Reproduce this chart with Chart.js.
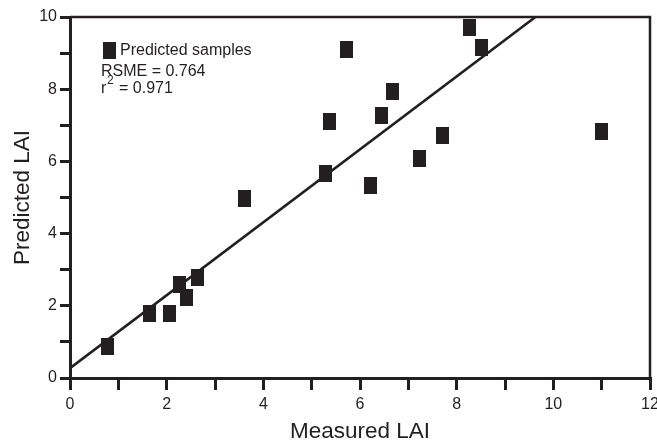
<!DOCTYPE html>
<html>
<head>
<meta charset="utf-8">
<script src="https://cdn.jsdelivr.net/npm/chart.js@4/dist/chart.umd.min.js"></script>
<style>
html,body{margin:0;padding:0;background:#fff;overflow:hidden;}
canvas{display:block;}
</style>
</head>
<body>
<canvas id="c" width="657" height="447" style="width:657px;height:447px"></canvas>
<script>
// Data
const measuredLAI  = [0.78, 1.64, 2.06, 2.26, 2.40, 2.64, 3.62, 5.28, 5.37, 5.73, 6.22, 6.45, 6.68, 7.23, 7.70, 8.26, 8.51, 10.99];
const predictedLAI = [0.87, 1.79, 1.79, 2.58, 2.24, 2.79, 4.96, 5.67, 7.10, 9.10, 5.32, 7.27, 7.93, 6.09, 6.71, 9.71, 9.15, 6.83];
const fitLineX = [0, 9.63];
const fitLineY = [0.27, 10];
const xTickValues = [0, 2, 4, 6, 8, 10, 12];
const yTickValues = [0, 2, 4, 6, 8, 10];
const legendLabel = 'Predicted samples';
const statsLines = ['RSME = 0.764', '0.971'];

const INK = '#231f20';

const marker = document.createElement('canvas');
marker.width = 13; marker.height = 17;
(function(){ const m = marker.getContext('2d'); m.fillStyle = INK; m.fillRect(0,0,13,17); })();

const framePlugin = {
  id: 'frame',
  afterDatasetsDraw(chart) {
    const {ctx, chartArea: a} = chart;
    ctx.save();
    ctx.strokeStyle = INK;
    ctx.lineWidth = 2.5;
    ctx.beginPath();
    ctx.moveTo(a.left, a.top);
    ctx.lineTo(a.right, a.top);
    ctx.lineTo(a.right, a.bottom);
    ctx.stroke();
    ctx.restore();
  }
};

const legendPlugin = {
  id: 'innerLegend',
  afterDraw(chart) {
    const ctx = chart.ctx;
    ctx.save();
    ctx.fillStyle = INK;
    ctx.textBaseline = 'middle';
    ctx.textAlign = 'left';
    ctx.drawImage(marker, 103, 42);
    ctx.font = '16px "Liberation Sans", Arial, sans-serif';
    ctx.fillText(legendLabel, 120, 51);
    ctx.fillText(statsLines[0], 101, 72);
    ctx.fillText('r', 101, 89);
    ctx.font = '12px "Liberation Sans", Arial, sans-serif';
    ctx.fillText('2', 107, 81);
    ctx.font = '16px "Liberation Sans", Arial, sans-serif';
    ctx.fillText('= ' + statsLines[1], 119, 89);
    ctx.restore();
  }
};

const tickFont = {family: '"Liberation Sans", Arial, sans-serif', size: 16};
const titleFont = {family: '"Liberation Sans", Arial, sans-serif', size: 22.5};

new Chart(document.getElementById('c'), {
  type: 'scatter',
  data: {
    datasets: [
      {
        label: legendLabel,
        data: measuredLAI.map((x, i) => ({x, y: predictedLAI[i]})),
        pointStyle: marker,
        pointRadius: 8,
        backgroundColor: INK,
        borderColor: INK,
        clip: false
      },
      {
        label: 'fit',
        type: 'line',
        data: fitLineX.map((x, i) => ({x, y: fitLineY[i]})),
        borderColor: INK,
        borderWidth: 2.6,
        pointRadius: 0,
        fill: false
      }
    ]
  },
  options: {
    responsive: false,
    animation: false,
    devicePixelRatio: 1,
    layout: {autoPadding: false, padding: {left: 0, right: 7, top: 17, bottom: 0}},
    plugins: {legend: {display: false}, tooltip: {enabled: false}},
    scales: {
      x: {
        type: 'linear', min: 0, max: 12,
        ticks: {
          stepSize: 1, color: INK, font: tickFont, padding: 5, maxRotation: 0,
          callback: v => xTickValues.includes(v) ? String(v) : ''
        },
        grid: {drawOnChartArea: false, drawTicks: true, tickLength: 12, color: INK, lineWidth: 3},
        border: {display: true, color: INK, width: 3},
        title: {display: true, text: 'Measured LAI', color: INK, font: titleFont, padding: {top: 0, bottom: 2}},
        afterFit(s) { s.height = 69; s.paddingLeft = 0; s.paddingRight = 0; }
      },
      y: {
        type: 'linear', min: 0, max: 10,
        ticks: {
          stepSize: 1, color: INK, font: tickFont, padding: 3,
          callback: v => yTickValues.includes(v) ? String(v) : ''
        },
        grid: {drawOnChartArea: false, drawTicks: true, tickLength: 10, color: INK, lineWidth: 3},
        border: {display: true, color: INK, width: 3},
        title: {display: true, text: 'Predicted LAI', color: INK, font: titleFont, padding: {top: 9, bottom: 0}},
        afterFit(s) { s.width = 70; s.paddingTop = 0; s.paddingBottom = 0; }
      }
    }
  },
  plugins: [framePlugin, legendPlugin]
});
</script>
</body>
</html>
